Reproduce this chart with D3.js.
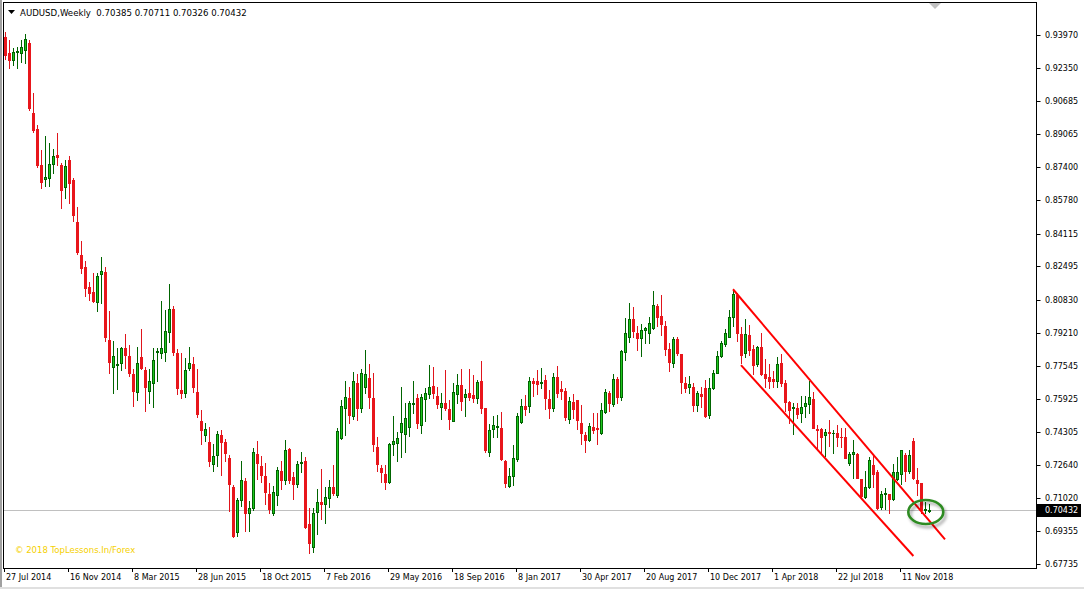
<!DOCTYPE html>
<html><head><meta charset="utf-8">
<script src="https://cdn.jsdelivr.net/npm/d3@7"></script>
<style>html,body{margin:0;padding:0;background:#fff;overflow:hidden}svg{display:block}</style>
</head><body><svg id="c" width="1084" height="589"></svg>
<script>
const opens=[.9389,.9306,.9273,.9312,.9306,.9323,.9356,.9008,.8931,.8752,.8683,.8689,.8756,.8802,.8752,.8645,.8777,.8678,.8468,.8306,.8245,.8146,.8121,.8071,.8210,.8220,.7884,.7752,.7761,.7772,
.7847,.7805,.7716,.7628,.7798,.7736,.7633,.7670,.7825,.7818,.7827,.7922,.8036,.7818,.7636,.7623,.7747,.7764,.7625,.7483,
.7415,.7377,.7269,.7314,.7413,.7377,.7298,.7154,.6931,.7090,.7185,.7028,.7053,.7319,.7259,.7210,.7121,.7028,.7116,.7235,
.7190,.7344,.7207,.7168,.7275,.7284,.6972,.6860,.7033,.7079,.7069,.7102,.7157,.7116,.7400,.7549,.7595,.7507,.7669,.7546,
.7650,.7694,.7595,.7352,.7248,.7218,.7178,.7367,.7375,.7430,.7417,.7451,.7567,.7595,.7463,.7590,.7616,.7656,.7606,.7554,
.7570,.7540,.7481,.7615,.7661,.7603,.7622,.7612,.7599,.7681,.7546,.7331,.7443,.7451,.7446,.7286,.7160,.7210,.7294,.7479,
.7559,.7559,.7681,.7681,.7673,.7686,.7590,.7549,.7699,.7641,.7631,.7491,.7575,.7587,.7471,.7413,.7388,.7455,.7450,.7421,
.7529,.7620,.7567,.7691,.7603,.7823,.7901,.7987,.7917,.7893,.7934,.7921,.7946,.8053,.8003,.7954,.7838,.7769,.7888,.7815,
.7673,.7650,.7650,.7562,.7617,.7645,.7512,.7645,.7722,.7805,.7863,.7901,.8000,.8107,.7914,.7818,.7909,.7838,.7764,.7851,
.7716,.7703,.7691,.7683,.7769,.7669,.7579,.7547,.7549,.7521,.7559,.7565,.7592,.7443,.7443,.7413,.7430,.7423,.7421,.7405,
.7405,.7276,.7319,.7319,.7193,.7104,.7157,.7265,.7228,.7058,.7122,.7119,.7094,.7193,.7220,.7314,.7235,.7384,.7190,.7177,
.7040,.70385];
const highs=[.9414,.9372,.9331,.9339,.9372,.9400,.9372,.9108,.8951,.8827,.8896,.8863,.8832,.8913,.8761,.8777,.8797,.8690,.8546,.8375,.8276,.8174,.8215,.8215,.8294,.8245,.8030,.7880,.7847,.7852,
.7913,.7860,.7741,.7848,.7937,.7749,.7741,.7843,.7843,.8078,.8033,.8162,.8053,.7840,.7818,.7794,.7848,.7799,.7741,.7537,
.7471,.7451,.7369,.7433,.7438,.7393,.7314,.7165,.7099,.7284,.7198,.7086,.7350,.7383,.7309,.7273,.7177,.7162,.7256,.7284,
.7389,.7347,.7231,.7284,.7331,.7306,.7050,.7050,.7144,.7245,.7157,.7190,.7264,.7446,.7587,.7681,.7653,.7726,.7716,.7741,
.7835,.7765,.7722,.7402,.7264,.7264,.7372,.7507,.7430,.7653,.7574,.7582,.7681,.7615,.7615,.7648,.7760,.7752,.7650,.7623,
.7736,.7587,.7673,.7716,.7739,.7640,.7739,.7711,.7686,.7780,.7549,.7466,.7509,.7512,.7529,.7289,.7248,.7364,.7524,.7592,
.7612,.7703,.7694,.7736,.7744,.7711,.7637,.7719,.7755,.7681,.7648,.7600,.7615,.7587,.7562,.7430,.7474,.7521,.7521,.7574,
.7641,.7633,.7716,.7703,.7835,.7995,.8070,.8046,.7954,.7964,.7951,.8000,.8127,.8063,.8107,.7980,.7868,.7901,.7898,.7815,
.7703,.7706,.7669,.7633,.7650,.7686,.7694,.7736,.7832,.7881,.7937,.8033,.8136,.8116,.7951,.7987,.7959,.7860,.7856,.7917,
.7790,.7764,.7732,.7798,.7815,.7686,.7584,.7574,.7574,.7608,.7607,.7681,.7625,.7463,.7446,.7441,.7488,.7438,.7463,.7446,
.7446,.7331,.7388,.7322,.7193,.7235,.7306,.7311,.7240,.7137,.7149,.7119,.7269,.7306,.7339,.7322,.7339,.7397,.7248,.7177,
.7083,.70711];
const lows=[.9280,.9235,.9248,.9235,.9265,.9257,.9025,.8918,.8744,.8640,.8650,.8650,.8714,.8752,.8537,.8590,.8562,.8475,.8311,.8215,.8104,.8083,.8071,.8030,.8066,.7881,.7719,.7623,.7640,.7736,
.7744,.7708,.7557,.7587,.7741,.7534,.7574,.7554,.7683,.7793,.7782,.7876,.7810,.7617,.7599,.7604,.7736,.7628,.7504,.7369,
.7385,.7260,.7236,.7260,.7215,.7286,.7038,.6909,.6914,.7063,.6939,.6939,.7041,.7195,.7182,.7069,.7025,.7016,.7066,.7144,
.7170,.7177,.7096,.7157,.7231,.6954,.6830,.6831,.6921,.6995,.6975,.7058,.7116,.7107,.7392,.7413,.7474,.7493,.7488,.7529,
.7623,.7549,.7336,.7235,.7179,.7145,.7173,.7314,.7286,.7306,.7327,.7408,.7524,.7446,.7422,.7484,.7598,.7595,.7546,.7491,
.7537,.7443,.7481,.7574,.7537,.7509,.7587,.7579,.7570,.7524,.7331,.7311,.7405,.7402,.7289,.7157,.7157,.7165,.7286,.7474,
.7512,.7529,.7607,.7617,.7648,.7542,.7496,.7534,.7600,.7590,.7488,.7474,.7499,.7441,.7369,.7331,.7384,.7425,.7369,.7418,
.7524,.7532,.7557,.7574,.7587,.7785,.7876,.7898,.7835,.7805,.7868,.7871,.7939,.7956,.7909,.7810,.7732,.7749,.7810,.7623,
.7628,.7623,.7534,.7534,.7550,.7504,.7499,.7640,.7719,.7798,.7855,.7898,.7954,.7881,.7769,.7798,.7810,.7714,.7756,.7711,
.7650,.7645,.7650,.7653,.7656,.7534,.7474,.7418,.7496,.7479,.7501,.7521,.7446,.7342,.7331,.7309,.7360,.7322,.7360,.7355,
.7298,.7265,.7202,.7198,.7107,.7099,.7149,.7154,.7045,.7045,.7045,.7025,.7091,.7190,.7169,.7187,.7223,.7193,.7116,.7028,
.7025,.70326];
const closes=[.9300,.9273,.9314,.9316,.9336,.9376,.9037,.8926,.8752,.8670,.8693,.8756,.8797,.8794,.8628,.8747,.8661,.8504,.8322,.8240,.8141,.8116,.8078,.8202,.8225,.7901,.7777,.7805,.7767,.7843,
.7810,.7719,.7633,.7769,.7747,.7653,.7681,.7785,.7830,.7843,.7929,.8036,.7826,.7645,.7623,.7736,.7769,.7653,.7517,.7438,
.7441,.7286,.7309,.7418,.7380,.7322,.7169,.6914,.7091,.7190,.7028,.7050,.7331,.7273,.7215,.7132,.7046,.7129,.7240,.7190,
.7339,.7190,.7170,.7270,.7281,.6959,.6876,.7025,.7083,.7071,.7104,.7154,.7127,.7435,.7557,.7600,.7512,.7681,.7549,.7719,
.7714,.7603,.7367,.7268,.7228,.7182,.7367,.7382,.7399,.7473,.7498,.7570,.7570,.7471,.7603,.7620,.7650,.7623,.7565,.7570,
.7546,.7493,.7625,.7661,.7584,.7617,.7603,.7598,.7674,.7549,.7339,.7438,.7463,.7456,.7294,.7177,.7210,.7297,.7508,.7557,
.7542,.7681,.7673,.7666,.7676,.7595,.7546,.7699,.7620,.7631,.7504,.7582,.7542,.7488,.7422,.7388,.7458,.7438,.7443,.7537,
.7625,.7570,.7691,.7603,.7830,.7917,.7987,.7931,.7893,.7934,.7946,.7967,.8058,.8000,.7962,.7838,.7774,.7888,.7818,.7678,
.7648,.7665,.7562,.7620,.7608,.7508,.7645,.7719,.7805,.7868,.7921,.7997,.8112,.7917,.7810,.7912,.7835,.7760,.7848,.7714,
.7698,.7683,.7681,.7764,.7669,.7579,.7537,.7552,.7516,.7551,.7570,.7600,.7446,.7438,.7405,.7430,.7421,.7425,.7405,.7402,
.7301,.7319,.7327,.7202,.7111,.7157,.7289,.7218,.7050,.7119,.7124,.7094,.7231,.7231,.7339,.7235,.7314,.7198,.7177,.7041,
.7045,.70432];
const priceTicks=[0.93970,0.92350,0.90685,0.89065,0.87400,0.85780,0.84115,0.82495,0.80830,0.79210,0.77545,0.75925,0.74305,0.72640,0.71020,0.69355,0.67735];
const dateLabels=["27 Jul 2014","16 Nov 2014","8 Mar 2015","28 Jun 2015","18 Oct 2015","7 Feb 2016","29 May 2016","18 Sep 2016","8 Jan 2017","30 Apr 2017","20 Aug 2017","10 Dec 2017","1 Apr 2018","22 Jul 2018","11 Nov 2018"];
const dateLabelWeeks=[0,16,32,48,64,80,96,112,128,144,160,176,192,208,224];
const symbolTitle="AUDUSD,Weekly";
const lastOHLC=[0.70385,0.70711,0.70326,0.70432];
const lastPrice=0.70432;
const channelUpper=[[182,0.8136],[235,0.6896]];
const channelLower=[[184,0.7760],[227.1,0.6813]];
const marker={week:230.2,price:0.70314};
const copyright="\u00a9 2018 TopLessons.In/Forex";

const W=1084,H=589;
const plot={l:3,r:1036,t:2,b:568};
const svg=d3.select("#c");
const font="'DejaVu Sans',Verdana,sans-serif";
const x=d3.scaleLinear().domain([0,231]).range([5,929]);
const y=d3.scaleLinear().domain([0.67735,0.93970]).range([564,35]);

svg.append("rect").attr("width",W).attr("height",H).attr("fill","#fff");
const defs=svg.append("defs");
defs.append("clipPath").attr("id","pc").append("rect").attr("x",plot.l+1).attr("y",plot.t+1).attr("width",plot.r-plot.l-1).attr("height",plot.b-plot.t-1);
const f=defs.append("filter").attr("id","sh").attr("x","-30%").attr("y","-30%").attr("width","160%").attr("height","170%");
f.append("feDropShadow").attr("dx",2).attr("dy",3).attr("stdDeviation",1.6).attr("flood-color","#000").attr("flood-opacity",0.35);

const g=svg.append("g").attr("clip-path","url(#pc)");
g.append("line").attr("x1",plot.l).attr("x2",plot.r).attr("y1",Math.round(y(lastPrice))+0.5).attr("y2",Math.round(y(lastPrice))+0.5).attr("stroke","#c0c0c0").attr("stroke-width",1);

const data=opens.map((o,i)=>({i,o,h:highs[i],l:lows[i],c:closes[i]}));
const cg=g.append("g").attr("shape-rendering","crispEdges");
data.forEach(d=>{
  const cx=Math.round(x(d.i));
  const bull=d.c>=d.o;
  const yh=Math.round(y(d.h)), yl=Math.round(y(d.l));
  const yt=Math.round(y(Math.max(d.o,d.c))), yb=Math.round(y(Math.min(d.o,d.c)));
  const wick=bull?"#006400":"#e0141b";
  cg.append("rect").attr("x",cx).attr("y",yh).attr("width",1).attr("height",Math.max(1,yl-yh+1)).attr("fill",wick);
  const bh=Math.max(1,yb-yt+1);
  if(bull){
    cg.append("rect").attr("x",cx-1).attr("y",yt).attr("width",3).attr("height",bh).attr("fill","#006400");
    if(bh>2) cg.append("rect").attr("x",cx).attr("y",yt+1).attr("width",1).attr("height",bh-2).attr("fill","#1ec81e");
  } else {
    cg.append("rect").attr("x",cx-1).attr("y",yt).attr("width",3).attr("height",bh).attr("fill","#e8161b");
  }
});

const line=d3.line().x(d=>x(d[0])).y(d=>y(d[1]));
[channelUpper,channelLower].forEach(c=>{
  g.append("path").attr("d",line(c)).attr("stroke","#ff0000").attr("stroke-width",2).attr("fill","none");
});
g.append("ellipse").attr("cx",x(marker.week)).attr("cy",y(marker.price)).attr("rx",17.5).attr("ry",12).attr("fill","none").attr("stroke","#2e8b22").attr("stroke-width",2.6).attr("filter","url(#sh)");

svg.append("rect").attr("x",plot.l+0.5).attr("y",plot.t+0.5).attr("width",plot.r-plot.l).attr("height",plot.b-plot.t).attr("fill","none").attr("stroke","#000").attr("stroke-width",1).attr("shape-rendering","crispEdges");

svg.append("path").attr("d","M8,10 L15,10 L11.5,14 Z").attr("fill","#000");
svg.append("text").attr("x",20).attr("y",16).attr("font-family",font).attr("font-size",8.6).attr("fill","#000")
  .attr("xml:space","preserve").style("white-space","pre")
  .text(symbolTitle+"  "+lastOHLC.map(v=>v.toFixed(5)).join(" "));
svg.append("path").attr("d","M929,3 L941,3 L935,9 Z").attr("fill","#c0c0c0");

const ax=svg.append("g");
priceTicks.forEach(p=>{
  const yy=Math.round(y(p))+0.5;
  ax.append("line").attr("x1",plot.r+0.5).attr("x2",plot.r+4.5).attr("y1",yy).attr("y2",yy).attr("stroke","#000");
  ax.append("text").attr("x",plot.r+9).attr("y",yy).attr("dy","0.35em").attr("font-family",font).attr("font-size",8).attr("fill","#000").text(p.toFixed(5));
});
const ly=Math.round(y(lastPrice));
ax.append("rect").attr("x",plot.r+1).attr("y",ly-6).attr("width",44).attr("height",13).attr("fill","#000");
ax.append("text").attr("x",plot.r+9).attr("y",ly+0.5).attr("dy","0.35em").attr("font-family",font).attr("font-size",8).attr("fill","#fff").text(lastPrice.toFixed(5));

dateLabels.forEach((t,k)=>{
  const xx=Math.round(x(dateLabelWeeks[k]))-0.5;
  ax.append("line").attr("x1",xx).attr("x2",xx).attr("y1",plot.b).attr("y2",plot.b+4).attr("stroke","#000");
  ax.append("text").attr("x",xx+1.5).attr("y",580).attr("font-family",font).attr("font-size",8).attr("fill","#000").text(t);
});
svg.append("text").attr("x",15).attr("y",553).attr("font-family",font).attr("font-size",8.5).attr("fill","#f5d000").text(copyright);
svg.append("rect").attr("x",0).attr("y",0).attr("width",2).attr("height",H).attr("fill","#a0a0a0");
svg.append("rect").attr("x",0).attr("y",H-2).attr("width",W).attr("height",2).attr("fill","#e0e0e0");
</script></body></html>
